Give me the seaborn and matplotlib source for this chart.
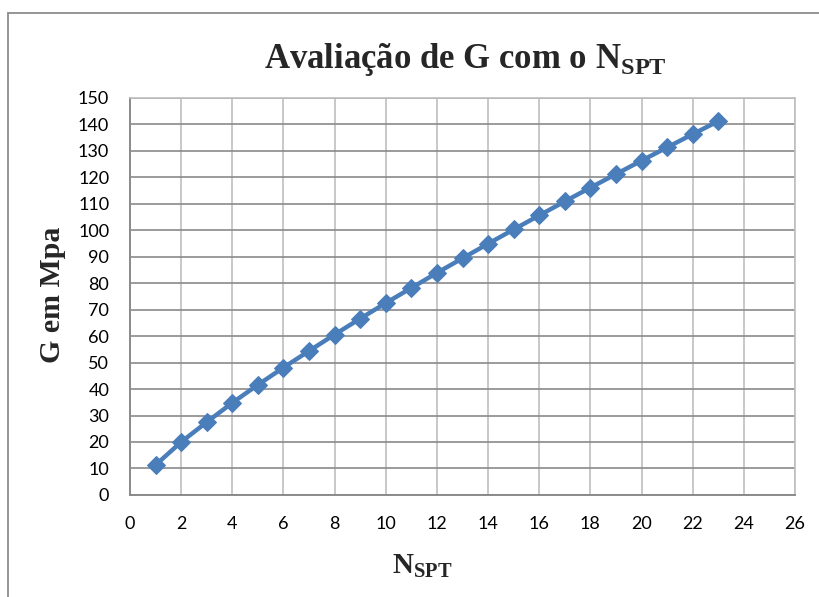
import matplotlib
matplotlib.use("Agg")
import matplotlib.pyplot as plt
import seaborn as sns
import pandas as pd
from matplotlib.patches import Rectangle

# N_SPT blow counts and the corresponding shear modulus G (MPa)
n_spt = [1, 2, 3, 4, 5, 6, 7, 8, 9, 10, 11, 12, 13, 14, 15, 16, 17, 18, 19, 20, 21, 22, 23]
g_mpa = [11.3, 20.0, 27.5, 34.8, 41.6, 48.1, 54.4, 60.6, 66.6, 72.5, 78.2, 83.9,
         89.4, 94.9, 100.3, 105.6, 110.9, 116.1, 121.2, 126.3, 131.3, 136.3, 141.2]
x_ticks = list(range(0, 27, 2))
y_ticks = list(range(0, 151, 10))

df = pd.DataFrame({"N_SPT": n_spt, "G": g_mpa})

sns.set_theme(style="white")
plt.rcParams["font.family"] = ["Lato", "DejaVu Sans"]
plt.rcParams["mathtext.fontset"] = "custom"
plt.rcParams["mathtext.rm"] = "Liberation Serif:bold"
plt.rcParams["mathtext.bf"] = "Liberation Serif:bold"

fig = plt.figure(figsize=(8.19, 5.97), dpi=100)
ax = fig.add_axes([130 / 819, 0.171, 665 / 819, 0.665])

# outer chart frame
fig.patches.append(Rectangle((8 / 819, -0.1), 1.2, 1 - 13 / 597 + 0.1,
                             transform=fig.transFigure, fill=False,
                             edgecolor="#8c8c8c", linewidth=1.3))

sns.lineplot(data=df, x="N_SPT", y="G", ax=ax, color="#4A7EBB", linewidth=3.2,
             marker="D", markersize=9, markeredgecolor="#4A7EBB")

ax.set_xlim(0, 26)
ax.set_ylim(0, 150)
ax.set_xticks(x_ticks)
ax.set_yticks(y_ticks)
ax.tick_params(axis="both", length=0, labelsize=13, colors="black")
ax.tick_params(axis="y", pad=15)
ax.tick_params(axis="x", pad=15)

ax.xaxis.grid(True, color="#bfbfbf", linewidth=1.2)
ax.yaxis.grid(True, color="#8a8a8a", linewidth=1.2)
ax.set_axisbelow(True)
for side in ["top", "right"]:
    ax.spines[side].set_color("#bfbfbf")
    ax.spines[side].set_linewidth(1.2)
for side in ["left", "bottom"]:
    ax.spines[side].set_color("#8a8a8a")
    ax.spines[side].set_linewidth(1.4)

ax.set_xlabel("")
ax.set_ylabel("")
fig.text(422 / 819, 1 - 573 / 597, r"$\mathbf{N}_{\mathbf{SPT}}$",
         ha="center", va="baseline", fontsize=21)
fig.text(53 / 819, 1 - 295 / 597, "G em Mpa", rotation=90,
         ha="center", va="center", fontsize=21.5, fontweight="bold",
         family="Liberation Serif")
fig.text(465 / 819, 1 - 68 / 597, r"Avaliação de G com o $\mathbf{N}_{\mathbf{SPT}}$",
         ha="center", va="baseline", fontsize=25, fontweight="bold",
         family="Liberation Serif")

fig.savefig("out.png", dpi=100)
